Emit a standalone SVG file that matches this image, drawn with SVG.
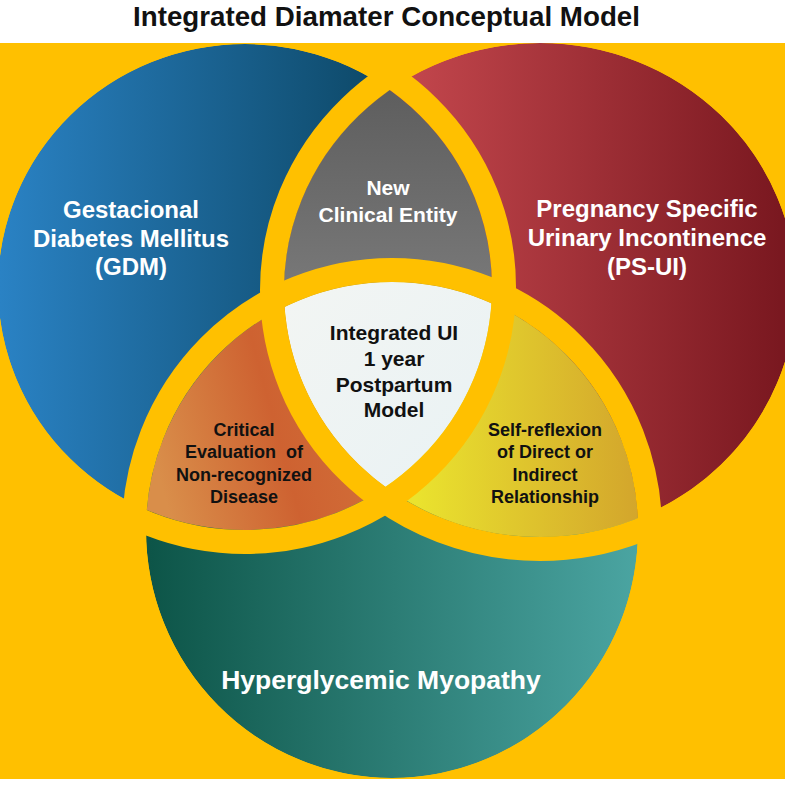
<svg xmlns="http://www.w3.org/2000/svg" width="787" height="787" viewBox="0 0 787 787">
<defs>
<style>
.t{font-family:"Liberation Sans",Arial,sans-serif;font-weight:bold;text-anchor:middle}
.w{fill:#ffffff}
.k{fill:#111111}
.gap{fill:none;stroke:#FFC000;stroke-width:24}
</style>
<clipPath id="frame"><rect x="0" y="43" width="785" height="736"/></clipPath>
<clipPath id="cB"><ellipse cx="245" cy="287" rx="247" ry="243"/></clipPath>
<clipPath id="cR"><ellipse cx="540" cy="290" rx="256" ry="247"/></clipPath>
<clipPath id="cT"><ellipse cx="392" cy="530" rx="246" ry="248"/></clipPath>
<linearGradient id="gB" gradientUnits="userSpaceOnUse" x1="0" y1="0" x2="370" y2="0"><stop offset="0" stop-color="#2A82C4"/><stop offset="1" stop-color="#0E4A6A"/></linearGradient>
<linearGradient id="gR" gradientUnits="userSpaceOnUse" x1="410" y1="0" x2="780" y2="0"><stop offset="0" stop-color="#C2464C"/><stop offset="1" stop-color="#7A1820"/></linearGradient>
<linearGradient id="gT" gradientUnits="userSpaceOnUse" x1="150" y1="0" x2="640" y2="0"><stop offset="0" stop-color="#0D5548"/><stop offset="1" stop-color="#4BA5A2"/></linearGradient>
<linearGradient id="gG" gradientUnits="userSpaceOnUse" x1="0" y1="90" x2="0" y2="280"><stop offset="0" stop-color="#5E5E5E"/><stop offset="1" stop-color="#777777"/></linearGradient>
<linearGradient id="gO" gradientUnits="userSpaceOnUse" x1="160" y1="480" x2="380" y2="420"><stop offset="0" stop-color="#D98E4A"/><stop offset="0.55" stop-color="#CE6231"/><stop offset="1" stop-color="#D2703A"/></linearGradient>
<linearGradient id="gY" gradientUnits="userSpaceOnUse" x1="415" y1="0" x2="640" y2="0"><stop offset="0" stop-color="#EAE32E"/><stop offset="1" stop-color="#D3A52C"/></linearGradient>
<linearGradient id="gW" gradientUnits="userSpaceOnUse" x1="290" y1="300" x2="490" y2="490"><stop offset="0" stop-color="#F2F5F3"/><stop offset="1" stop-color="#E9F2F4"/></linearGradient>
</defs>
<rect x="0" y="0" width="787" height="787" fill="#ffffff"/>
<text class="t k" x="386.5" y="26" font-size="28" textLength="507" lengthAdjust="spacingAndGlyphs" style="font-family:'Liberation Sans Narrow','Liberation Sans',Arial,sans-serif">Integrated Diamater Conceptual Model</text>
<g clip-path="url(#frame)">
<rect x="0" y="43" width="785" height="736" fill="#FFC000"/>
<g id="blue"><ellipse cx="245" cy="287" rx="247" ry="243" fill="url(#gB)"/></g>
<g id="red"><ellipse cx="540" cy="290" rx="256" ry="247" fill="url(#gR)"/></g>
<g id="teal"><ellipse cx="392" cy="530" rx="246" ry="248" fill="url(#gT)"/></g>
<g id="gray" clip-path="url(#cB)"><ellipse cx="540" cy="290" rx="256" ry="247" fill="url(#gG)"/></g>
<g id="brown" clip-path="url(#cB)"><ellipse cx="392" cy="530" rx="246" ry="248" fill="url(#gO)"/></g>
<g id="yellow" clip-path="url(#cR)"><ellipse cx="392" cy="530" rx="246" ry="248" fill="url(#gY)"/></g>
<g id="white" clip-path="url(#cB)"><g clip-path="url(#cR)"><ellipse cx="392" cy="530" rx="246" ry="248" fill="url(#gW)"/></g></g>
<g id="gaps">
<ellipse class="gap" cx="245" cy="287" rx="259" ry="255"/>
<ellipse class="gap" cx="540" cy="290" rx="268" ry="259"/>
<ellipse class="gap" cx="392" cy="530" rx="258" ry="260"/>
</g>
</g>
<g id="labels">
<text class="t w" font-size="24"><tspan x="131" y="218">Gestacional</tspan><tspan x="131" y="247">Diabetes Mellitus</tspan><tspan x="131" y="275">(GDM)</tspan></text>
<text class="t w" font-size="24"><tspan x="647" y="217">Pregnancy Specific</tspan><tspan x="647" y="246">Urinary Incontinence</tspan><tspan x="647" y="275">(PS-UI)</tspan></text>
<text class="t w" font-size="21"><tspan x="388" y="195">New</tspan><tspan x="388" y="222">Clinical Entity</tspan></text>
<text class="t k" font-size="21"><tspan x="394" y="340">Integrated UI</tspan><tspan x="394" y="366">1 year</tspan><tspan x="394" y="392">Postpartum</tspan><tspan x="394" y="417">Model</tspan></text>
<text class="t k" font-size="18"><tspan x="244" y="436">Critical</tspan><tspan x="244" y="458" xml:space="preserve">Evaluation  of</tspan><tspan x="244" y="481">Non-recognized</tspan><tspan x="244" y="503">Disease</tspan></text>
<text class="t k" font-size="18"><tspan x="545" y="436">Self-reflexion</tspan><tspan x="545" y="458">of Direct or</tspan><tspan x="545" y="481">Indirect</tspan><tspan x="545" y="503">Relationship</tspan></text>
<text class="t w" font-size="26.5" x="381" y="689">Hyperglycemic Myopathy</text>
</g>
</svg>
